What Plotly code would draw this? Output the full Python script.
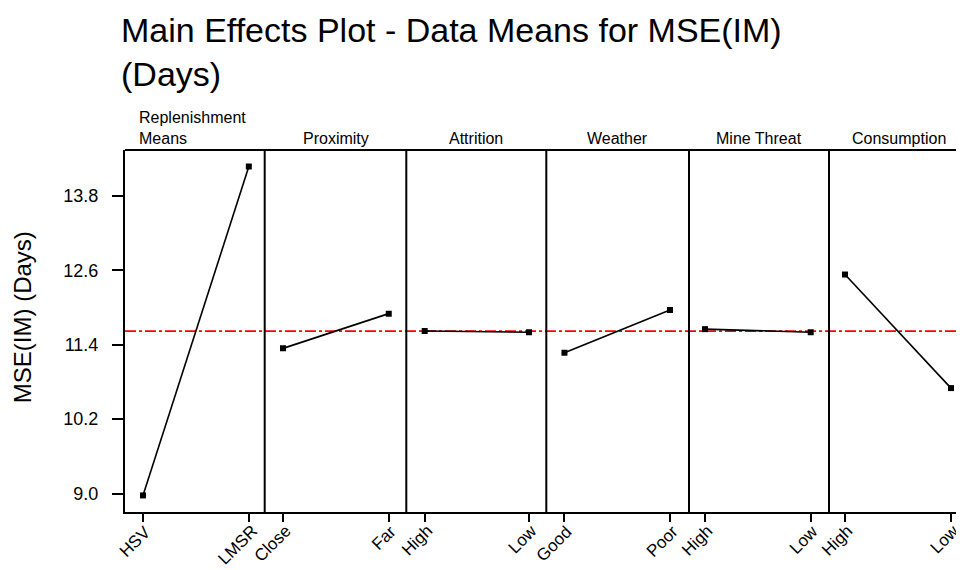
import plotly.graph_objects as go

# ---- data ----
factors = ["Replenishment<br>Means", "Proximity", "Attrition", "Weather", "Mine Threat", "Consumption"]
levels = [["HSV", "LMSR"], ["Close", "Far"], ["High", "Low"], ["Good", "Poor"], ["High", "Low"], ["High", "Low"]]
means = [[8.97, 14.27], [11.34, 11.90], [11.62, 11.60], [11.27, 11.96], [11.65, 11.60], [12.53, 10.70]]
y_ticks = [9.0, 10.2, 11.4, 12.6, 13.8]

grand_mean = sum(sum(m) for m in means) / sum(len(m) for m in means)

W, H = 964, 570
L_PX, R_PX = 117, 961
T_PX, B_PX = 142, 503.7
PLOT_W = R_PX - L_PX
PLOT_H = B_PX - T_PX
bounds_px = [117, 256.7, 398.3, 538.3, 681, 821, 961]
ranges = [[-0.17, 1.15], [-0.173, 1.166], [-0.176, 1.166], [-0.172, 1.18], [-0.151, 1.173], [-0.151, 1.17]]

FONT = "Liberation Sans, Arial, sans-serif"


def px_x(p):
    return (p - L_PX) / PLOT_W


def px_y(p):
    return (B_PX - p) / PLOT_H


fig = go.Figure()
shapes = []
annotations = []
for i, (fac, lev, m) in enumerate(zip(factors, levels, means)):
    ax = "x" if i == 0 else f"x{i+1}"
    fig.add_trace(go.Scatter(
        x=lev, y=m, xaxis=ax, yaxis="y", mode="lines+markers",
        line=dict(color="black", width=1.6),
        marker=dict(symbol="square", size=6, color="black"),
        showlegend=False, hoverinfo="x+y"))
    d0 = px_x(bounds_px[i])
    d1 = px_x(bounds_px[i + 1])
    axis = dict(domain=[d0, d1], anchor="y", type="category",
                range=ranges[i], showgrid=False, zeroline=False,
                showline=True, linecolor="black", linewidth=2,
                ticks="outside", ticklen=8, tickwidth=1.5, tickcolor="black",
                showticklabels=False)
    key = "xaxis" if i == 0 else f"xaxis{i+1}"
    fig.update_layout({key: axis})
    # rotated level labels, anchored to the category positions of this panel's axis
    for j, name in enumerate(lev):
        annotations.append(dict(text=name, xref=ax, yref="paper", x=j, y=px_y(512),
                                xanchor="right", yanchor="top", textangle=-45, xshift=13,
                                showarrow=False, borderpad=0,
                                font=dict(family=FONT, size=17, color="black")))
    if i > 0:
        shapes.append(dict(type="line", xref="paper", yref="paper", x0=d0, x1=d0, y0=0, y1=1,
                           line=dict(color="black", width=2)))
    if i == 0:
        annotations.append(dict(text=fac, xref="paper", yref="paper",
                                x=px_x(129), y=px_y(T_PX - 1), xanchor="left", yanchor="bottom",
                                align="left", showarrow=False,
                                font=dict(family=FONT, size=16, color="black")))
    else:
        annotations.append(dict(text=fac, xref="paper", yref="paper",
                                x=(d0 + d1) / 2, y=px_y(T_PX - 1),
                                xanchor="center", yanchor="bottom", showarrow=False,
                                font=dict(family=FONT, size=16, color="black")))

# top frame line
shapes.append(dict(type="line", xref="paper", yref="paper", x0=0, x1=1, y0=1, y1=1,
                   line=dict(color="black", width=2)))
# grand mean reference line
shapes.append(dict(type="line", xref="paper", yref="y", x0=0, x1=1, y0=grand_mean, y1=grand_mean,
                   line=dict(color="#ff0000", width=1.8, dash="11px,3px,3px,3px"), layer="below"))

# y axis title
annotations.append(dict(text="MSE(IM) (Days)", xref="paper", yref="paper",
                        x=px_x(14), y=px_y(309), textangle=-90,
                        xanchor="center", yanchor="middle", showarrow=False,
                        font=dict(family=FONT, size=24, color="black")))

# chart title
annotations.append(dict(text="Main Effects Plot - Data Means for MSE(IM)<br>(Days)",
                        xref="paper", yref="paper", x=px_x(111), y=px_y(1),
                        xanchor="left", yanchor="top", align="left", showarrow=False,
                        font=dict(family=FONT, size=34, color="black")))

fig.update_layout(
    width=W, height=H,
    margin=dict(l=L_PX, r=W - R_PX, t=T_PX, b=H - B_PX),
    paper_bgcolor="white", plot_bgcolor="white",
    yaxis=dict(range=[8.703, 14.537], tickvals=y_ticks, ticktext=[f"{v:.1f}" for v in y_ticks],
               showgrid=False, zeroline=False, showline=True, linecolor="black", linewidth=2,
               ticks="outside", ticklen=11, tickwidth=1.5, tickcolor="black",
               ticklabelstandoff=10,
               tickfont=dict(family=FONT, size=18, color="black"), anchor="x"),
    shapes=shapes, annotations=annotations,
)

fig.write_html("out.html")
